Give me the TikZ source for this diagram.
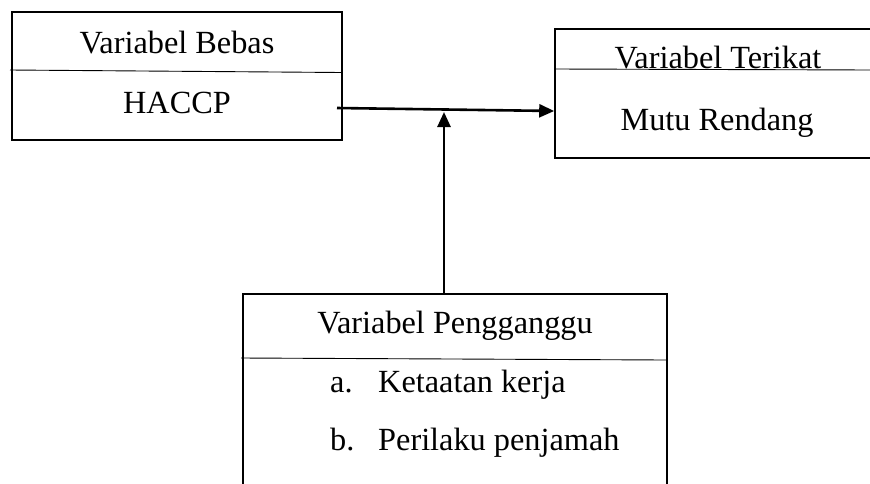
\documentclass[tikz,border=0pt]{standalone}
\usepackage{fontspec}
\setmainfont{Liberation Serif}
\usetikzlibrary{arrows.meta}
\begin{document}
\begin{tikzpicture}[x=1pt,y=-1pt,
  box/.style={draw,line width=1.6pt,rectangle,inner sep=0pt},
  lbl/.style={inner sep=0pt,font=\fontsize{32.3}{38}\selectfont},
  divider/.style={line width=0.9pt},
  conn/.style={line width=2.6pt,-{Triangle[length=15pt,width=13pt]}}]
\useasboundingbox (0,0) rectangle (870,483);
\clip (0,0) rectangle (870,483);
% boxes
\node[box,minimum width=330pt,minimum height=128pt] (b1) at (177,76) {};
\node[box,minimum width=340pt,minimum height=129pt] (b2) at (725,93.5) {};
\node[box,minimum width=424pt,minimum height=230pt] (b3) at (455,409) {};
% dividers
\draw[divider] (10,70) -- (342,72.5);
\draw[divider] (555,69) -- (872,70);
\draw[divider] (241,358) -- (666,360);
% texts
\node[lbl,anchor=base] (t1) at (177,53) {Variabel Bebas};
\node[lbl,anchor=base] (t2) at (177,113) {HACCP};
\node[lbl,anchor=base] (t3) at (718,68.5) {Variabel Terikat};
\node[lbl,anchor=base] (t4) at (717,130) {Mutu Rendang};
\node[lbl,anchor=base] (t5) at (455,333) {Variabel Pengganggu};
\node[lbl,anchor=base west] (t6a) at (330,392) {a.};
\node[lbl,anchor=base west] (t6) at (378,392) {Ketaatan kerja};
\node[lbl,anchor=base west] (t7a) at (330,450) {b.};
\node[lbl,anchor=base west] (t7) at (378,450) {Perilaku penjamah};
% connectors
\coordinate (h1) at (337,108);
\coordinate (v2) at (444,112);
\draw[conn] (h1) -- ([yshift=-17.5pt]b2.west);
\draw[conn] ([xshift=-11pt]b3.north) -- (v2);
\end{tikzpicture}
\end{document}
